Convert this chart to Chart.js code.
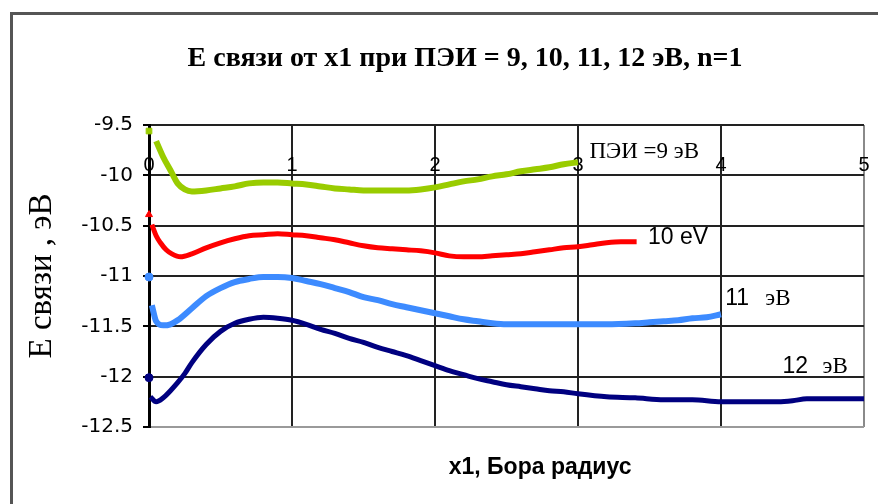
<!DOCTYPE html>
<html>
<head>
<meta charset="utf-8">
<script src="https://cdn.jsdelivr.net/npm/chart.js@4/dist/chart.umd.min.js"></script>
<style>
  html, body { margin: 0; padding: 0; background: #fff; }
  #wrap { width: 878px; height: 504px; }
</style>
</head>
<body>
<div id="wrap"><canvas id="c" width="878" height="504"></canvas></div>
<script>
// Binding energy vs x1 (Bohr radius units) for ionisation potentials 9, 10, 11, 12 eV, n=1
const chartTitle = 'Е связи от x1 при ПЭИ = 9, 10, 11, 12 эВ, n=1';
const xAxisTitle = 'x1, Бора радиус';
const yAxisTitle = 'Е связи , эВ';
const xTickValues = [0, 1, 2, 3, 4, 5];
const yTickValues = [-9.5, -10, -10.5, -11, -11.5, -12, -12.5];

// ПЭИ = 9 эВ
const x9 = [0, 0.05, 0.10, 0.15, 0.20, 0.25, 0.30, 0.40, 0.50, 0.60, 0.70, 0.80, 0.90, 1.00,
  1.10, 1.20, 1.30, 1.40, 1.50, 1.60, 1.70, 1.80, 1.90, 2.00, 2.10, 2.20, 2.30, 2.40, 2.50,
  2.60, 2.70, 2.80, 2.90, 3.00];
const e9 = [-9.56, -9.66, -9.82, -9.95, -10.08, -10.14, -10.16, -10.15, -10.13, -10.11, -10.08,
  -10.07, -10.07, -10.08, -10.09, -10.11, -10.13, -10.14, -10.15, -10.15, -10.15, -10.15, -10.14,
  -10.12, -10.09, -10.06, -10.04, -10.01, -9.99, -9.96, -9.94, -9.92, -9.89, -9.87];

// ПЭИ = 10 эВ
const x10 = [0, 0.02, 0.05, 0.08, 0.12, 0.16, 0.22, 0.30, 0.40, 0.50, 0.60, 0.70, 0.80, 0.90,
  1.00, 1.10, 1.20, 1.30, 1.40, 1.50, 1.60, 1.70, 1.80, 1.90, 2.00, 2.10, 2.20, 2.30, 2.40,
  2.50, 2.60, 2.70, 2.80, 2.90, 3.00, 3.10, 3.20, 3.30, 3.41];
const e10 = [-10.39, -10.49, -10.60, -10.67, -10.74, -10.78, -10.81, -10.78, -10.72, -10.67,
  -10.63, -10.60, -10.59, -10.58, -10.59, -10.60, -10.62, -10.64, -10.67, -10.70, -10.72, -10.73,
  -10.74, -10.75, -10.77, -10.80, -10.81, -10.81, -10.80, -10.79, -10.78, -10.76, -10.74, -10.72,
  -10.71, -10.69, -10.67, -10.66, -10.66];

// ПЭИ = 11 эВ
const x11 = [0, 0.02, 0.05, 0.10, 0.15, 0.20, 0.30, 0.40, 0.50, 0.60, 0.70, 0.80, 0.90, 1.00,
  1.10, 1.20, 1.30, 1.40, 1.50, 1.60, 1.70, 1.80, 1.90, 2.00, 2.10, 2.20, 2.30, 2.40, 2.50,
  2.60, 2.80, 3.00, 3.20, 3.40, 3.50, 3.60, 3.70, 3.80, 3.90, 4.00];
const e11 = [-11.01, -11.29, -11.45, -11.49, -11.48, -11.44, -11.32, -11.20, -11.12, -11.06,
  -11.03, -11.01, -11.01, -11.02, -11.05, -11.08, -11.12, -11.16, -11.21, -11.24, -11.28, -11.31,
  -11.34, -11.37, -11.40, -11.43, -11.45, -11.47, -11.48, -11.48, -11.48, -11.48, -11.48, -11.47,
  -11.46, -11.45, -11.44, -11.42, -11.41, -11.38];

// ПЭИ = 12 эВ
const x12 = [0, 0.01, 0.05, 0.10, 0.15, 0.20, 0.25, 0.30, 0.40, 0.50, 0.60, 0.70, 0.80, 0.90,
  1.00, 1.10, 1.20, 1.30, 1.40, 1.50, 1.60, 1.70, 1.80, 1.90, 2.00, 2.10, 2.20, 2.30, 2.40,
  2.50, 2.60, 2.70, 2.80, 2.90, 3.00, 3.20, 3.40, 3.60, 3.80, 4.00, 4.20, 4.40, 4.50, 4.60,
  4.80, 5.00, 5.05];
const e12 = [-12.01, -12.20, -12.25, -12.21, -12.14, -12.06, -11.97, -11.86, -11.68, -11.55,
  -11.47, -11.43, -11.41, -11.42, -11.44, -11.48, -11.53, -11.57, -11.62, -11.66, -11.71, -11.75,
  -11.79, -11.84, -11.89, -11.94, -11.98, -12.02, -12.05, -12.08, -12.10, -12.12, -12.14, -12.15,
  -12.17, -12.20, -12.21, -12.23, -12.23, -12.25, -12.25, -12.25, -12.24, -12.22, -12.22, -12.22,
  -12.22];

// The first value of every run is a separate point, not joined to the curve
function toPoints(xs, ys) {
  const pts = [{ x: xs[0], y: ys[0] }, { x: xs[0], y: null }];
  for (let i = 1; i < xs.length; i++) pts.push({ x: xs[i], y: ys[i] });
  return pts;
}

function series(xs, ys, color, marker, width) {
  return {
    data: toPoints(xs, ys),
    borderColor: color,
    backgroundColor: color,
    borderWidth: width,
    pointStyle: marker,
    pointRadius: ctx => ctx.dataIndex === 0 ? 4 : 0,
    pointBorderWidth: 1,
    cubicInterpolationMode: 'monotone',
    spanGaps: false,
    clip: 10
  };
}

// Text placed on the plot next to each curve (data coordinates)
const curveLabels = [
  { x: 3.08, y: -9.77, parts: [['ПЭИ =9 эВ', '23px "Liberation Serif"']] },
  { x: 3.49, y: -10.62, parts: [['10 eV', '23px "Liberation Sans"']] },
  { x: 4.03, y: -11.23, parts: [['11', '23px "Liberation Sans"'], ['эВ', '23px "Liberation Serif"', 4.31]] },
  { x: 4.43, y: -11.90, parts: [['12', '23px "Liberation Sans"'], ['эВ', '23px "Liberation Serif"', 4.71]] }
];

const captions = {
  id: 'captions',
  beforeDraw(chart) {
    const c = chart.ctx;
    c.save();
    c.fillStyle = '#fff';
    c.fillRect(0, 0, chart.width, chart.height);
    c.strokeStyle = '#555';
    c.lineWidth = 3;
    c.strokeRect(11.5, 13.5, chart.width + 60, chart.height + 60);
    c.restore();
  },
  afterDraw(chart) {
    const { ctx, chartArea: a, scales: { x, y } } = chart;
    const w = a.right - a.left;
    ctx.save();
    ctx.fillStyle = '#000';
    ctx.textBaseline = 'middle';
    ctx.textAlign = 'center';
    ctx.font = 'bold 28px "Liberation Serif"';
    ctx.fillText(chartTitle, a.left + 0.442 * w, a.top - 66);
    ctx.font = 'bold 23px "Liberation Sans"';
    ctx.fillText(xAxisTitle, a.left + 0.547 * w, a.bottom + 41);
    ctx.textAlign = 'left';
    curveLabels.forEach(lab => {
      const py = y.getPixelForValue(lab.y);
      lab.parts.forEach(([text, font, at]) => {
        ctx.font = font;
        ctx.fillText(text, x.getPixelForValue(at !== undefined ? at : lab.x), py);
      });
    });
    ctx.restore();
  }
};

new Chart(document.getElementById('c'), {
  type: 'line',
  data: {
    datasets: [
      series(x9, e9, '#99CC00', 'rect', 6),
      series(x10, e10, '#FF0000', 'triangle', 5),
      series(x11, e11, '#3D8BFF', 'circle', 6),
      series(x12, e12, '#000080', 'circle', 5)
    ]
  },
  options: {
    responsive: false,
    animation: false,
    events: [],
    layout: { padding: { left: 12, top: 125, right: 14, bottom: 77 } },
    plugins: {
      legend: { display: false },
      title: { display: false },
      tooltip: { enabled: false }
    },
    scales: {
      x: {
        type: 'linear',
        position: { y: -9.75 },
        min: xTickValues[0],
        max: xTickValues[xTickValues.length - 1],
        ticks: {
          stepSize: 1,
          color: '#000',
          font: { family: 'Liberation Sans', size: 20 },
          maxRotation: 0
        },
        grid: {
          color: ctx => ctx.tick && ctx.tick.value === 5 ? '#8a8a8a' : '#222',
          lineWidth: 2,
          drawTicks: false
        },
        border: { display: false }
      },
      y: {
        type: 'linear',
        position: 'left',
        min: yTickValues[yTickValues.length - 1],
        max: yTickValues[0],
        afterFit: s => { s.width = 137; },
        ticks: {
          stepSize: 0.5,
          color: '#000',
          padding: 10,
          font: { family: 'DejaVu Sans', size: 20 },
          callback: v => String(v)
        },
        grid: {
          color: ctx => ctx.tick && ctx.tick.value === -12.5 ? '#9a9a9a' : '#222',
          lineWidth: 2,
          drawTicks: true,
          tickLength: 6,
          tickColor: '#000'
        },
        border: { display: true, color: '#000', width: 3 },
        title: {
          display: true,
          text: yAxisTitle,
          color: '#000',
          font: { family: 'Liberation Serif', size: 33 },
          padding: { top: 11, bottom: 0 }
        }
      }
    }
  },
  plugins: [captions]
});
</script>
</body>
</html>
